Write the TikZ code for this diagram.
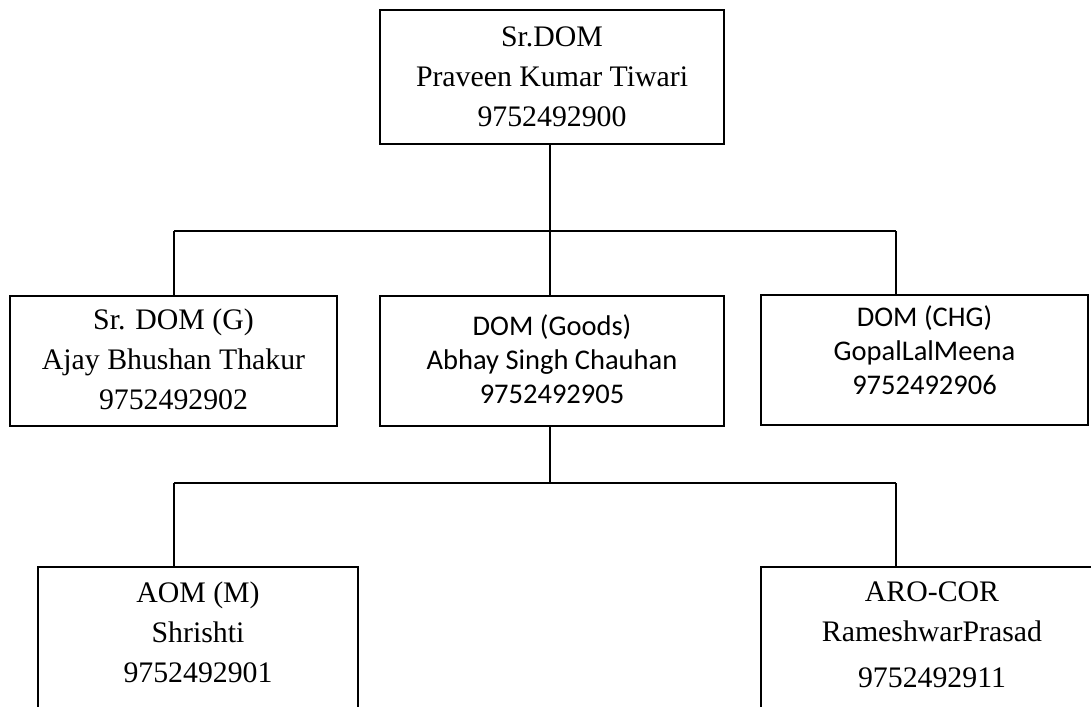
\documentclass[tikz,border=0pt]{standalone}
\usepackage{fontspec}
\setmainfont{Liberation Serif}
\newfontfamily\calibri{Carlito}
\begin{document}
\begin{tikzpicture}[x=1pt,y=-1pt,
  box/.style={draw, line width=1.4pt, inner sep=0pt, rectangle},
  serif/.style={align=center, inner sep=0pt, font=\fontsize{29.8}{40}\selectfont},
  sans/.style={align=center, inner sep=0pt, font=\calibri\fontsize{28.5}{34}\selectfont},
  conn/.style={line width=1.2pt}]
\useasboundingbox (0,0) rectangle (1091,706);

% boxes
\node[box, minimum width=344pt, minimum height=134pt] (top) at (552,77) {};
\node[box, minimum width=327pt, minimum height=130pt] (srg) at (173.5,361) {};
\node[box, minimum width=344pt, minimum height=130pt] (goods) at (552,361) {};
\node[box, minimum width=327pt, minimum height=130pt] (chg) at (924.5,360) {};
\node[box, minimum width=320pt, minimum height=173pt] (aom) at (198,653.5) {};
\node[box, minimum width=342pt, minimum height=173pt] (aro) at (932,653.5) {};

% texts
\node[serif] (topt) at ([yshift=0pt]top.center) {Sr.DOM\\Praveen Kumar Tiwari\\9752492900};
\node[serif] (srgt) at ([yshift=2pt]srg.center) {Sr. DOM (G)\\Ajay Bhushan Thakur\\9752492902};
\node[sans] (goodst) at ([yshift=2pt]goods.center) {DOM (Goods)\\Abhay Singh Chauhan\\9752492905};
\node[sans] (chgt) at ([yshift=10pt]chg.center) {DOM (CHG)\\GopalLalMeena\\9752492906};
\node[serif] (aomt) at (198,632) {AOM (M)\\Shrishti\\9752492901};
\node[serif] (arot) at (932,635) {ARO-COR\\RameshwarPrasad\\[6pt]9752492911};

% connector coordinates
\coordinate (b1) at (550,231);
\coordinate (b1l) at (174,231);
\coordinate (b1r) at (896,231);
\coordinate (b2) at (550,483);
\coordinate (b2l) at (174,483);
\coordinate (b2r) at (896,483);

\draw[conn] (top.south -| b1) -- (b1);
\draw[conn] (b1l) -- (b1r);
\draw[conn] (b1l) -- (b1l |- srg.north);
\draw[conn] (b1) -- (b1 |- goods.north);
\draw[conn] (b1r) -- (b1r |- chg.north);

\draw[conn] (goods.south -| b2) -- (b2);
\draw[conn] (b2l) -- (b2r);
\draw[conn] (b2l) -- (b2l |- aom.north);
\draw[conn] (b2r) -- (b2r |- aro.north);
\end{tikzpicture}
\end{document}
